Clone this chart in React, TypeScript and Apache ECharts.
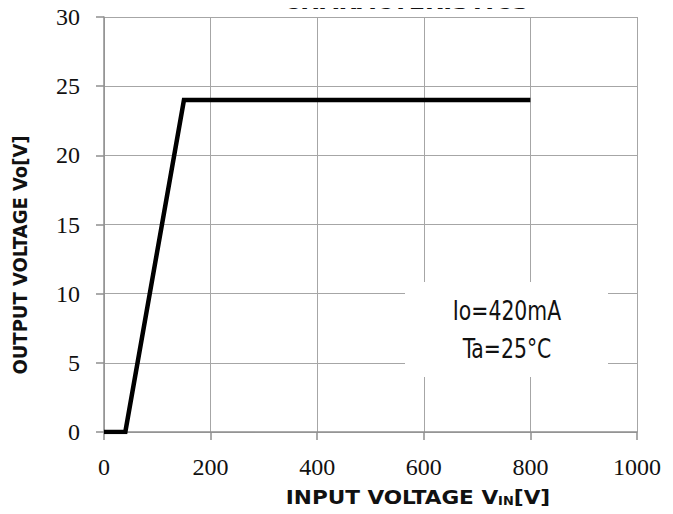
import React, { useEffect, useRef } from "react";
import * as echarts from "echarts";

const inputVoltage = [0, 40, 150, 800];
const outputVoltage = [0, 0, 24, 24];
const xTicks = { min: 0, max: 1000, interval: 200 };
const yTicks = { min: 0, max: 30, interval: 5 };
const noteLines = ["Io=420mA", "Ta=25°C"];

export default function App() {
  const ref = useRef<HTMLDivElement>(null);
  useEffect(() => {
    if (!ref.current) return;
    const chart = echarts.init(ref.current, null, { renderer: "svg" });
    const gray = "#8f8f8f";
    const serif = "'Liberation Serif', 'DejaVu Serif', serif";
    const cond = "'DejaVu Sans Condensed', 'DejaVu Sans', sans-serif";
    chart.setOption({
      animation: false,
      backgroundColor: "#ffffff",
      grid: { left: 104, right: 36, top: 17, bottom: 82, containLabel: false },
      xAxis: {
        type: "value",
        min: xTicks.min,
        max: xTicks.max,
        interval: xTicks.interval,
        axisLine: { show: true, lineStyle: { color: gray, width: 1.5 } },
        axisTick: { show: true, length: 8, lineStyle: { color: gray, width: 1.5 } },
        splitLine: { show: true, lineStyle: { color: "#a6a6a6", width: 1 } },
        axisLabel: {
          margin: 23,
          color: "#111",
          fontFamily: serif,
          fontSize: 24,
          formatter: (v: number) => String(v),
        },
      },
      yAxis: {
        type: "value",
        min: yTicks.min,
        max: yTicks.max,
        interval: yTicks.interval,
        axisLine: { show: true, lineStyle: { color: gray, width: 1.5 } },
        axisTick: { show: true, length: 8, lineStyle: { color: gray, width: 1.5 } },
        splitLine: { show: true, lineStyle: { color: "#a6a6a6", width: 1 } },
        axisLabel: {
          margin: 24,
          color: "#111",
          fontFamily: serif,
          fontSize: 24,
          formatter: (v: number) => String(v),
        },
      },
      series: [
        {
          type: "line",
          data: inputVoltage.map((x, i) => [x, outputVoltage[i]]),
          showSymbol: false,
          lineStyle: { color: "#000", width: 4.5, join: "miter" },
          z: 5,
        },
      ],
      graphic: [
        {
          type: "rect",
          shape: { x: 405, y: 282, width: 203, height: 95 },
          style: { fill: "#ffffff" },
          z: 10,
        },
        {
          type: "text",
          x: 507,
          y: 311,
          scaleX: 0.84,
          z: 11,
          style: {
            text: noteLines[0],
            fontFamily: cond,
            fontSize: 27,
            fill: "#111",
            align: "center",
            verticalAlign: "middle",
          },
        },
        {
          type: "text",
          x: 507,
          y: 349,
          scaleX: 0.84,
          z: 11,
          style: {
            text: noteLines[1],
            fontFamily: cond,
            fontSize: 27,
            fill: "#111",
            align: "center",
            verticalAlign: "middle",
          },
        },
        {
          type: "text",
          x: 406,
          y: 1,
          scaleX: 1.2,
          z: 11,
          style: {
            text: "CHARACTERISTICS",
            fontFamily: cond,
            fontWeight: "bold",
            fontSize: 22,
            fill: "#111",
            align: "center",
            verticalAlign: "middle",
          },
        },
        {
          type: "text",
          x: 418,
          y: 497,
          scaleX: 1.2,
          z: 11,
          style: {
            text: "{a|INPUT VOLTAGE V}{s|IN}{a|[V]}",
            align: "center",
            verticalAlign: "middle",
            rich: {
              a: {
                fontFamily: cond,
                fontWeight: "bold",
                fontSize: 20,
                fill: "#111",
                color: "#111",
                verticalAlign: "bottom",
              },
              s: {
                fontFamily: cond,
                fontWeight: "bold",
                fontSize: 12,
                fill: "#111",
                color: "#111",
                padding: [8, 0, 0, 0],
                verticalAlign: "bottom",
              },
            },
          },
        },
        {
          type: "text",
          x: 20,
          y: 255,
          rotation: Math.PI / 2,
          z: 11,
          style: {
            text: "OUTPUT VOLTAGE Vo[V]",
            fontFamily: cond,
            fontWeight: "bold",
            fontSize: 20,
            fill: "#111",
            align: "center",
            verticalAlign: "middle",
          },
        },
      ],
    });
    return () => chart.dispose();
  }, []);
  return <div ref={ref} style={{ width: 673, height: 514, margin: -8 }} />;
}
